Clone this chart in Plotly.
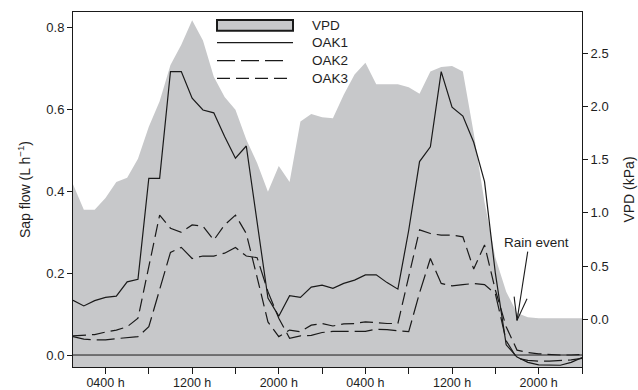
import plotly.graph_objects as go

# ---------------- data ----------------
hours = list(range(1, 49))

vpd = [1.27, 1.03, 1.03, 1.14, 1.29, 1.33, 1.51, 1.81, 2.05, 2.39, 2.58, 2.81,
       2.62, 2.28, 2.09, 1.97, 1.69, 1.47, 1.20, 1.44, 1.29, 1.86, 1.93, 1.90,
       1.89, 2.11, 2.30, 2.41, 2.21, 2.21, 2.21, 2.18, 2.12, 2.33, 2.37, 2.38,
       2.33, 1.75, 1.10, 0.58, 0.26, 0.06, 0.02, 0.01, 0.01, 0.01, 0.01, 0.01]

oak1 = [0.134, 0.120, 0.133, 0.141, 0.144, 0.179, 0.185, 0.432, 0.432, 0.693, 0.693, 0.628,
        0.599, 0.592, 0.534, 0.481, 0.511, 0.320, 0.139, 0.095, 0.145, 0.141, 0.166, 0.171,
        0.163, 0.175, 0.183, 0.196, 0.196, 0.177, 0.161, 0.305, 0.473, 0.509, 0.693, 0.606,
        0.584, 0.520, 0.424, 0.200, 0.025, -0.005, -0.018, -0.024, -0.025, -0.025, -0.018, -0.006]

oak2 = [0.045, 0.039, 0.037, 0.037, 0.040, 0.042, 0.045, 0.069, 0.157, 0.251, 0.263, 0.236,
        0.242, 0.242, 0.249, 0.263, 0.242, 0.238, 0.155, 0.090, 0.041, 0.047, 0.048, 0.055,
        0.058, 0.058, 0.058, 0.058, 0.063, 0.062, 0.059, 0.057, 0.152, 0.236, 0.175, 0.169,
        0.172, 0.175, 0.172, 0.150, 0.035, -0.008, -0.013, -0.015, -0.015, -0.014, -0.012, -0.008]

oak3 = [0.047, 0.049, 0.050, 0.056, 0.061, 0.069, 0.090, 0.216, 0.342, 0.310, 0.300, 0.318,
        0.315, 0.281, 0.318, 0.342, 0.297, 0.190, 0.081, 0.045, 0.061, 0.057, 0.073, 0.077,
        0.071, 0.076, 0.077, 0.081, 0.079, 0.077, 0.077, 0.190, 0.306, 0.297, 0.293, 0.293,
        0.289, 0.210, 0.269, 0.159, 0.069, 0.012, 0.006, 0.003, 0.001, 0.000, 0.000, 0.001]

x_tick_hours = [4, 12, 20, 28, 36, 44]
x_tick_labels = ["0400 h", "1200 h", "2000 h", "0400 h", "1200 h", "2000 h"]
x_minor_step = 4
sap_ticks = [0.0, 0.2, 0.4, 0.6, 0.8]
vpd_ticks = [0.0, 0.5, 1.0, 1.5, 2.0, 2.5]

legend_names = ["VPD", "OAK1", "OAK2", "OAK3"]
rain_label = "Rain event"
rain_hour = 42.0
rain_vpd = -0.01

# ---------------- layout constants ----------------
W, H = 638, 390
ML, MR, MT, MB = 73, 56, 12, 23
X_RANGE = [1, 48]
SAP_RANGE = [-0.0293, 0.8386]
VPD_RANGE = [-0.448, 2.888]

GRAY = "#c7c8ca"
INK = "#1a1a1a"
TXT = "#1e1e1e"
FONT = "Liberation Sans, Arial, sans-serif"
DASH2 = "18px,6px"
DASH3 = "13px,6px"
TICK_SIZE = 13
XTICK_SIZE = 12.5
LABEL_SIZE = 13.5
TITLE_SIZE = 14

plot_w = W - ML - MR
plot_h = H - MT - MB
px_per_h = plot_w / (X_RANGE[1] - X_RANGE[0])
px_per_v = plot_h / (VPD_RANGE[1] - VPD_RANGE[0])


def off(dx, dy):
    """pixel offset from the rain point -> data coords on (x, y[VPD])"""
    return rain_hour + dx / px_per_h, rain_vpd - dy / px_per_v


def px2paper(px, py):
    return (px - ML) / plot_w, (H - MB - py) / plot_h


fig = go.Figure()

# VPD area (filled to the bottom of the axis)
fig.add_trace(go.Scatter(x=hours, y=[VPD_RANGE[0]] * len(hours), yaxis="y",
                         mode="lines", line=dict(width=0), showlegend=False,
                         hoverinfo="skip"))
fig.add_trace(go.Scatter(x=hours, y=vpd, yaxis="y", mode="lines",
                         fill="tonexty", fillcolor=GRAY, line=dict(width=0, color=GRAY),
                         name="VPD", showlegend=False))

# Sap flow lines
fig.add_trace(go.Scatter(x=hours, y=oak1, yaxis="y2", mode="lines",
                         line=dict(color=INK, width=1.2), name="OAK1", showlegend=False))
fig.add_trace(go.Scatter(x=hours, y=oak2, yaxis="y2", mode="lines",
                         line=dict(color=INK, width=1.2, dash=DASH2), name="OAK2", showlegend=False))
fig.add_trace(go.Scatter(x=hours, y=oak3, yaxis="y2", mode="lines",
                         line=dict(color=INK, width=1.2, dash=DASH3), name="OAK3", showlegend=False))

shapes = []
# zero line of sap flow axis
shapes.append(dict(type="line", xref="paper", x0=0, x1=1, yref="y2", y0=0, y1=0,
                   line=dict(color=INK, width=1), layer="above"))

# custom legend
lx0, _ = px2paper(217, 0)
lx1, _ = px2paper(293, 0)
_, by0 = px2paper(0, 30.7)
_, by1 = px2paper(0, 20)
shapes.append(dict(type="rect", xref="paper", yref="paper", x0=lx0, x1=lx1, y0=by0, y1=by1,
                   fillcolor=GRAY, line=dict(color=INK, width=2), layer="above"))
leg_rows = [(42.7, None, 293), (60.7, DASH2, 287), (78.3, DASH3, 289)]
for py, dash, xend in leg_rows:
    _, yy = px2paper(0, py)
    xe, _ = px2paper(xend, 0)
    ln = dict(color=INK, width=1.2)
    if dash:
        ln["dash"] = dash
    shapes.append(dict(type="line", xref="paper", yref="paper", x0=lx0, x1=xe, y0=yy, y1=yy,
                       line=ln, layer="above"))

annotations = []
tx, _ = px2paper(310, 0)
for name, py in zip(legend_names, [25.3, 42.7, 60.7, 78.3]):
    _, yy = px2paper(0, py)
    annotations.append(dict(xref="paper", yref="paper", x=tx, y=yy, text=name,
                            xanchor="left", yanchor="middle", showarrow=False,
                            font=dict(family=FONT, size=LABEL_SIZE, color=TXT)))

# rain event arrow
tail = off(10.7, -68.7)
w1 = off(-2.9, -23.7)
w2 = off(10.0, -21.7)
for p in (tail, w1, w2):
    shapes.append(dict(type="line", xref="x", yref="y", x0=rain_hour, y0=rain_vpd,
                       x1=p[0], y1=p[1], line=dict(color=INK, width=1.1), layer="above"))
tcx, tcy = off(19.7, -78.0)
annotations.append(dict(xref="x", yref="y", x=tcx, y=tcy, text=rain_label,
                        showarrow=False, xanchor="center", yanchor="middle",
                        font=dict(family=FONT, size=LABEL_SIZE, color=TXT)))

axis_common = dict(showgrid=False, zeroline=False, showline=True, linecolor=INK,
                   linewidth=1, ticks="outside", tickcolor=INK, tickwidth=1,
                   automargin=False)

fig.update_layout(
    width=W, height=H,
    margin=dict(l=ML, r=MR, t=MT, b=MB, pad=0, autoexpand=False),
    paper_bgcolor="white", plot_bgcolor="white",
    showlegend=False,
    font=dict(family=FONT, size=TICK_SIZE, color=TXT),
    xaxis=dict(range=X_RANGE, tickmode="array", tickvals=x_tick_hours, ticktext=x_tick_labels,
               ticklen=6, mirror=True, layer="above traces", ticklabelstandoff=-2,
               tickfont=dict(family=FONT, size=XTICK_SIZE, color=TXT),
               minor=dict(tick0=0, dtick=x_minor_step, ticks="outside", ticklen=6,
                          tickcolor=INK, tickwidth=1, showgrid=False),
               **axis_common),
    yaxis=dict(range=VPD_RANGE, side="right", tickmode="array", tickvals=vpd_ticks,
               tickformat=".1f", ticklen=5, layer="above traces",
               tickfont=dict(family=FONT, size=TICK_SIZE, color=TXT),
               title=dict(text="VPD (kPa)", standoff=16,
                          font=dict(family=FONT, size=TITLE_SIZE, color=TXT)),
               **axis_common),
    yaxis2=dict(range=SAP_RANGE, side="left", overlaying="y", tickmode="array",
                tickvals=sap_ticks, tickformat=".1f", ticklen=5, layer="above traces",
                tickfont=dict(family=FONT, size=TICK_SIZE, color=TXT),
                title=dict(text="Sap flow (L h<sup>−1</sup>)", standoff=12,
                           font=dict(family=FONT, size=TITLE_SIZE, color=TXT)),
                **axis_common),
    shapes=shapes,
    annotations=annotations,
)

fig.write_html("out.html")
